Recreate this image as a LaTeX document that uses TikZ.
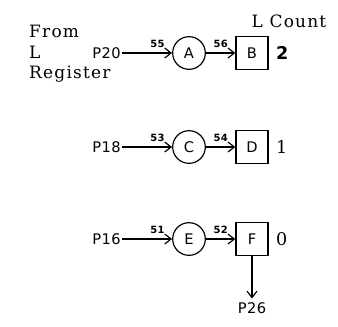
\documentclass[tikz,border=0pt]{standalone}
\usepackage{fontspec}
\newfontfamily\lerfont{DejaVu Sans}[LetterSpace=3]
\newfontfamily\typfont{DejaVu Serif}[LetterSpace=7]
\usetikzlibrary{arrows.meta,positioning}
\tikzset{
  gate/.style={draw, circle, line width=1pt, minimum size=0.98cm, inner sep=0pt, font=\lerfont\fontsize{12.5}{12.5}\selectfont},
  flip/.style={draw, rectangle, line width=1.1pt, minimum width=0.96cm, minimum height=0.99cm, inner sep=0pt, font=\lerfont\fontsize{12.5}{12.5}\selectfont},
  pulse/.style={font=\lerfont\fontsize{12.5}{12.5}\selectfont, inner sep=1pt},
  wire/.style={line width=1pt, -{Straight Barb[length=5.5pt,width=8.5pt,line width=1pt]}},
  pin/.style={font=\lerfont\bfseries\fontsize{8.5}{8.5}\selectfont, inner sep=0pt, anchor=south east, xshift=-6pt, yshift=4pt},
  cnt/.style={font=\fontsize{15}{15}\selectfont, inner sep=0pt}
}
\begin{document}
\begin{tikzpicture}[x=0.03cm, y=-0.03cm]
    \useasboundingbox (0,0) rectangle (338,326);
    % header texts
    \node[align=left, anchor=north west, inner sep=0pt, font=\typfont\fontsize{14.5}{17.4}\selectfont] (src) at (29,25) {From\\L\\Register};
    \node[font=\typfont\fontsize{14.5}{14.5}\selectfont, inner sep=0pt] (hdr) at (289,21) {L Count};
    % three stages of the counter
    \foreach \i/\y/\inp/\g/\f/\na/\nb/\val in {1/53/P20/A/B/55/56/{\lerfont\bfseries 2}, 2/147/P18/C/D/53/54/{\typfont 1}, 3/239/P16/E/F/51/52/{\typfont 0}}{
        \node[pulse, anchor=east] (p\i) at (122,\y) {\inp};
        \node[gate] (g\i) at (189,\y) {\g};
        \node[flip] (f\i) at (252,\y) {\f};
        \node[cnt, anchor=west] (v\i) at (276,\y) {\val};
        \draw[wire] (p\i.east) -- (g\i.west) node[pin, pos=1] {\na};
        \draw[wire] (g\i.east) -- (f\i.west) node[pin, pos=1] {\nb};
    }
    % output of the last stage
    \node[pulse, below=1.36cm of f3] (out) {P26};
    \draw[wire, shorten >=2.5pt] (f3.south) -- (out.north);
\end{tikzpicture}
\end{document}
